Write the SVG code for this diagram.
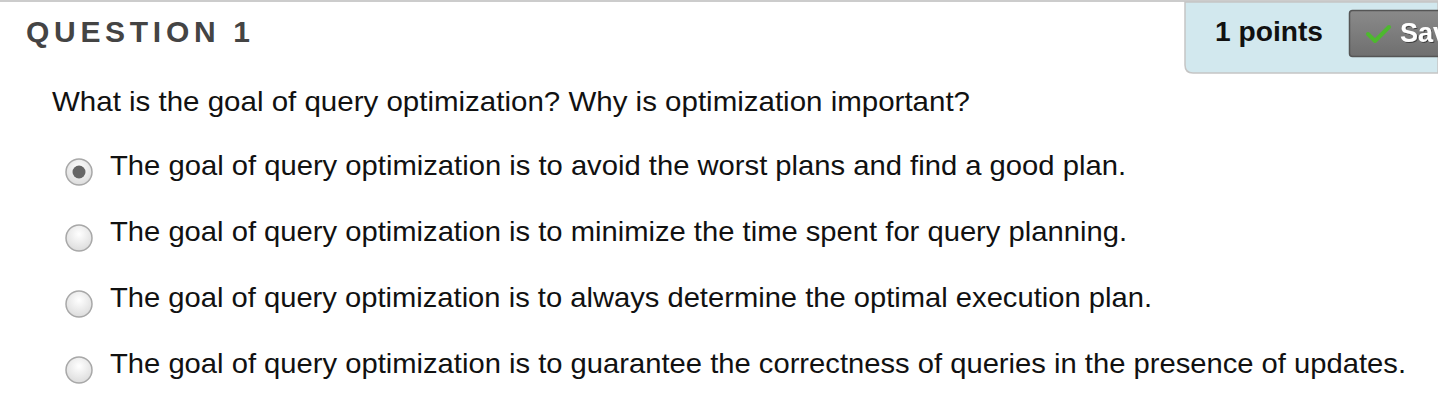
<svg xmlns="http://www.w3.org/2000/svg" width="1438" height="417" viewBox="0 0 1438 417">
<defs>
<radialGradient id="rg" cx="0.5" cy="0.35" r="0.65">
<stop offset="0" stop-color="#ffffff"/>
<stop offset="1" stop-color="#dcdcdc"/>
</radialGradient>
<linearGradient id="btn" x1="0" y1="0" x2="0" y2="1">
<stop offset="0" stop-color="#8a8a8a"/>
<stop offset="1" stop-color="#6f6f6f"/>
</linearGradient>
<filter id="sh" x="-10%" y="-20%" width="130%" height="150%">
<feDropShadow dx="1" dy="1" stdDeviation="0.5" flood-color="#222" flood-opacity="0.7"/>
</filter>
</defs>
<style>
.t{font-family:"Liberation Sans",Arial,sans-serif;fill:#111;font-size:28px}
.radio{fill:url(#rg);stroke:#a8a8a8;stroke-width:1.5}
</style>
<rect x="0" y="0" width="1438" height="417" fill="#fff"/>
<rect x="0" y="0" width="1438" height="2" fill="#cccccc"/>
<g id="header">
<text x="26" y="42" font-family="Liberation Sans,Arial,sans-serif" font-weight="bold" font-size="30" letter-spacing="4.7" fill="#444">QUESTION 1</text>
</g>
<g id="points-panel">
<path d="M1185,2 H1438 V73 H1193 Q1185,73 1185,65 Z" fill="#d2e8ee" stroke="#c5c5c5" stroke-width="1.5"/>
<text x="1215" y="41" font-family="Liberation Sans,Arial,sans-serif" font-weight="bold" font-size="28" fill="#111" textLength="108" lengthAdjust="spacingAndGlyphs">1 points</text>
<rect x="1349.5" y="10.5" width="100" height="46" rx="3" fill="url(#btn)" stroke="#555" stroke-width="1.5"/>
<path d="M1368,34 L1375,41 L1389,27" fill="none" stroke="#4db82e" stroke-width="4" stroke-linecap="round" stroke-linejoin="round"/>
<text x="1400" y="42" font-family="Liberation Sans,Arial,sans-serif" font-weight="bold" font-size="27" fill="#fff" filter="url(#sh)">Save</text>
</g>
<g id="question">
<text class="t" x="52" y="111" textLength="918" lengthAdjust="spacingAndGlyphs">What is the goal of query optimization? Why is optimization important?</text>
</g>
<g id="option1">
<circle class="radio" cx="79" cy="172" r="13"/>
<circle cx="79" cy="172" r="6.5" fill="#666"/>
<text class="t" x="110" y="175" textLength="1016" lengthAdjust="spacingAndGlyphs">The goal of query optimization is to avoid the worst plans and find a good plan.</text>
</g>
<g id="option2">
<circle class="radio" cx="79" cy="238" r="13"/>
<text class="t" x="110" y="241" textLength="1017" lengthAdjust="spacingAndGlyphs">The goal of query optimization is to minimize the time spent for query planning.</text>
</g>
<g id="option3">
<circle class="radio" cx="79" cy="304" r="13"/>
<text class="t" x="110" y="307" textLength="1042" lengthAdjust="spacingAndGlyphs">The goal of query optimization is to always determine the optimal execution plan.</text>
</g>
<g id="option4">
<circle class="radio" cx="79" cy="370" r="13"/>
<text class="t" x="110" y="373" textLength="1296" lengthAdjust="spacingAndGlyphs">The goal of query optimization is to guarantee the correctness of queries in the presence of updates.</text>
</g>
</svg>
